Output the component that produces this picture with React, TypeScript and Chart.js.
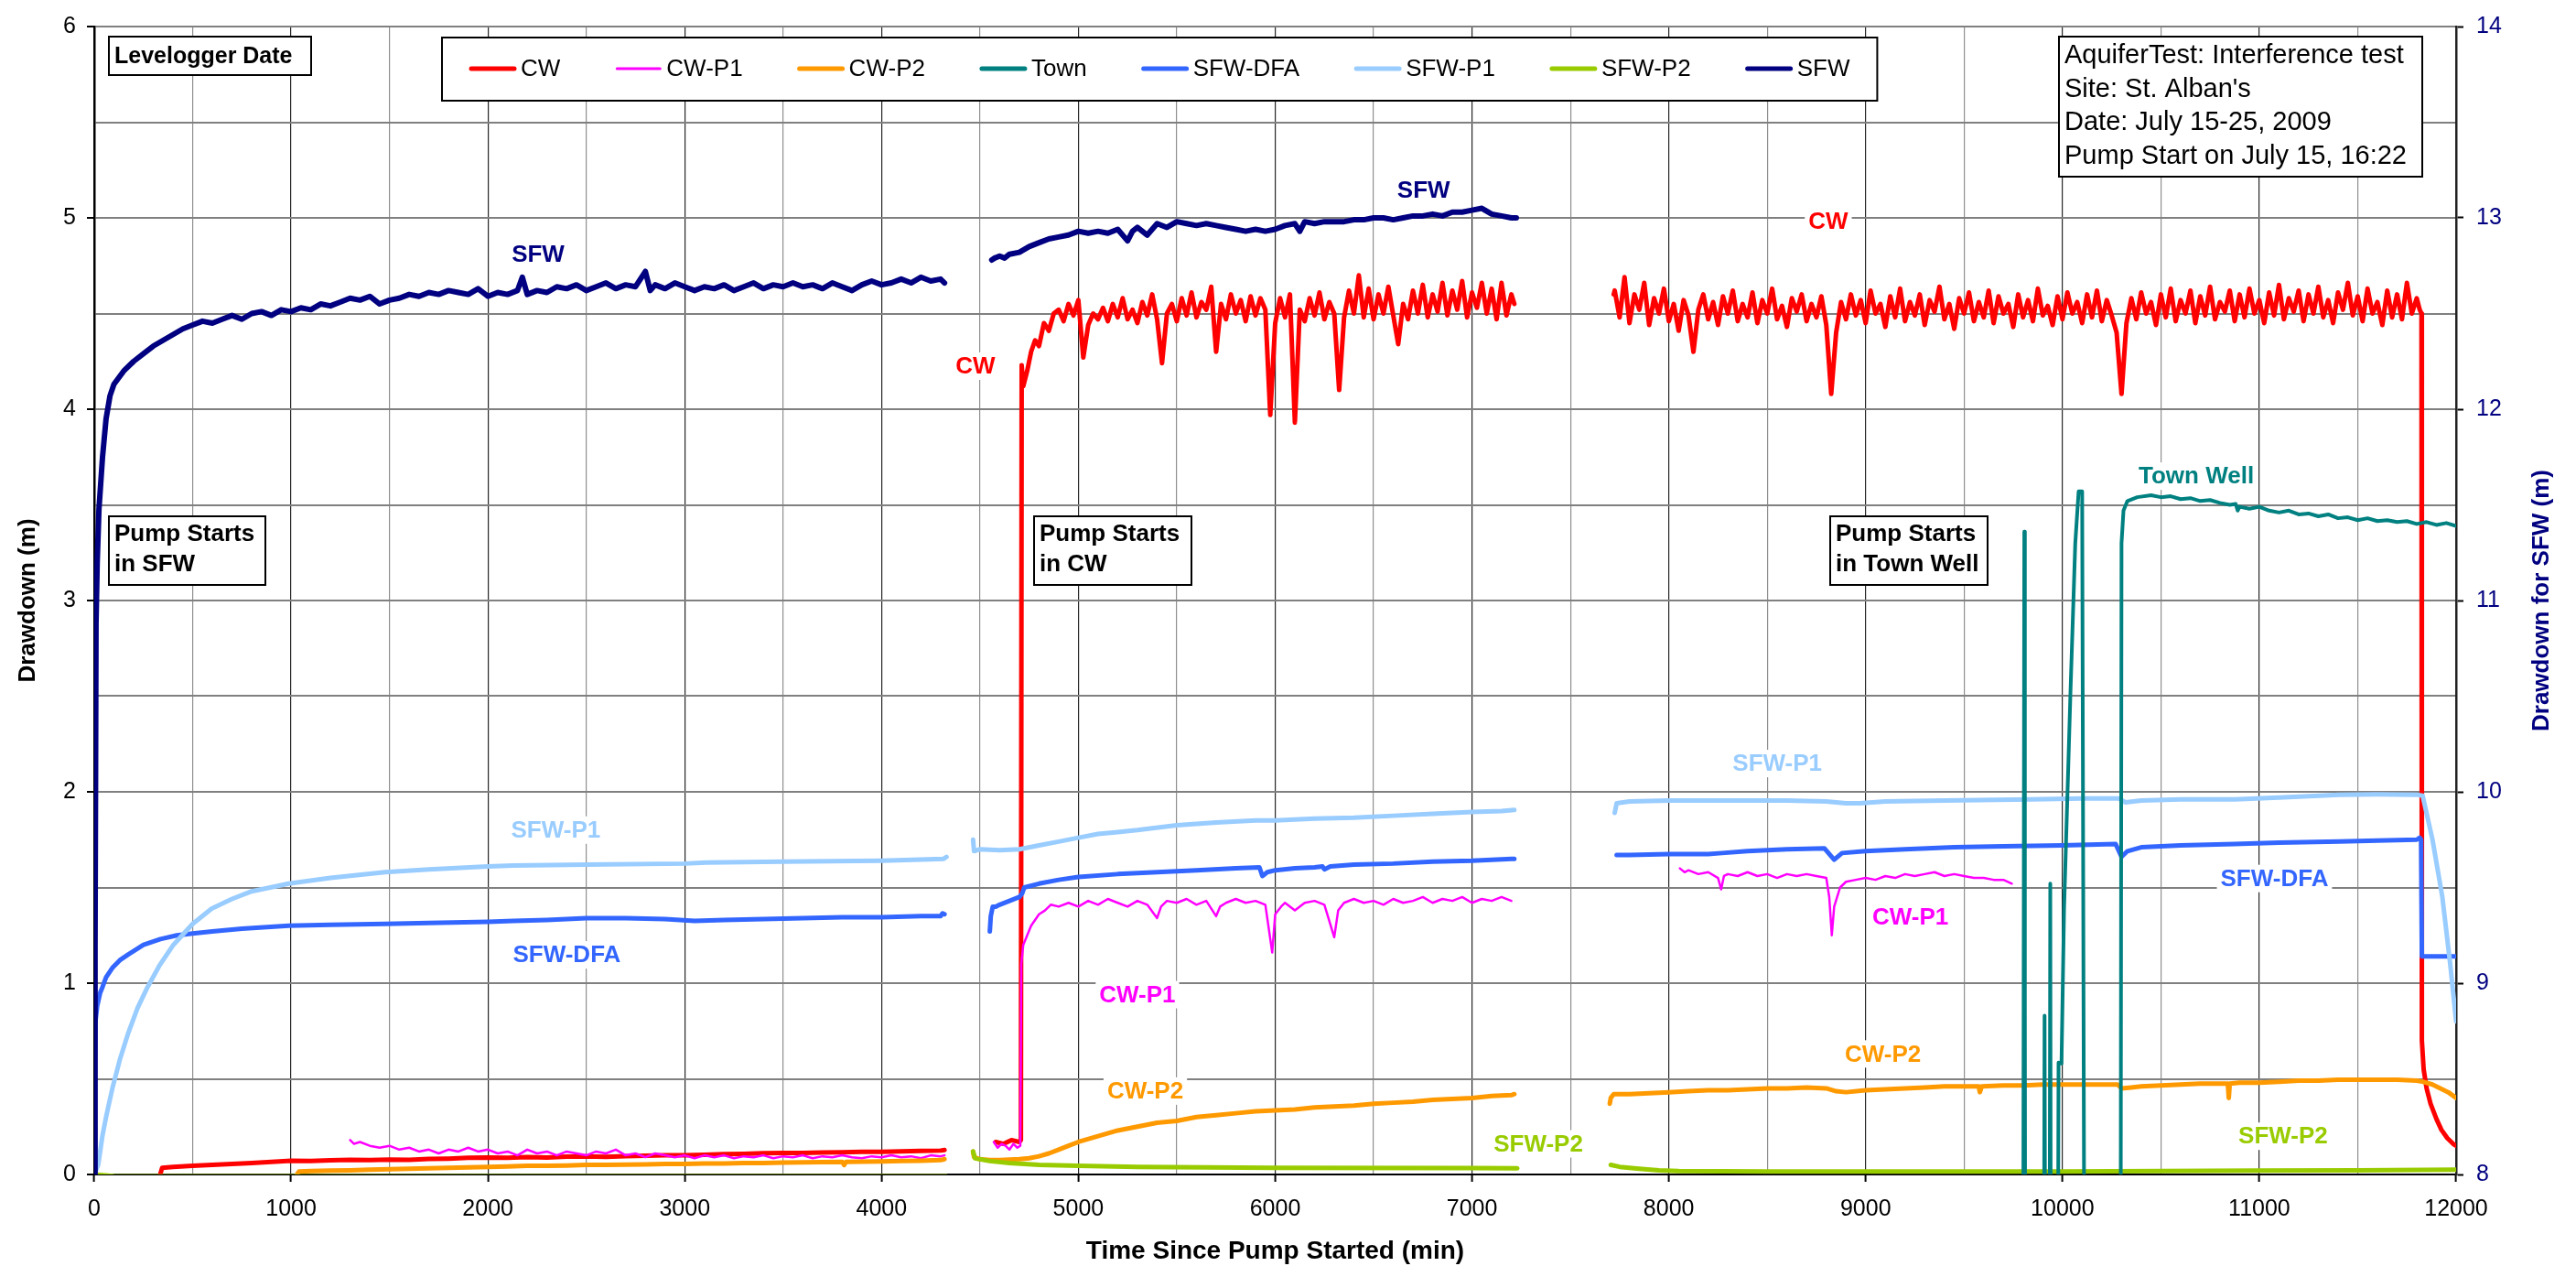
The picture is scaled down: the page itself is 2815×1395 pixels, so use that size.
import React, { useEffect, useRef } from 'react';
import { Chart, registerables } from 'chart.js';

Chart.register(...registerables);

const W = 2815;
const H = 1395;
const FONT = '"Liberation Sans", Arial, Helvetica, sans-serif';

type P = [number, number];

// ---------- axes ----------
const X_MIN = 0;
const X_MAX = 12000;
const X_STEP = 500;
const Y_MIN = 0;
const Y_MAX = 6;
const Y2_MIN = 8;
const Y2_MAX = 14;

// ---------- series names / colours ----------
const SERIES_NAMES = ['CW', 'CW-P1', 'CW-P2', 'Town', 'SFW-DFA', 'SFW-P1', 'SFW-P2', 'SFW'];
const SERIES_COLORS = ['#FF0000', '#FF00FF', '#FF9900', '#008080', '#3366FF', '#99CCFF', '#99CC00', '#000080'];

// ---------- CW ----------
const CW_SEG1: P[] = [[335, 0.0], [345, 0.035], [400, 0.04], [500, 0.045], [600, 0.05], [700, 0.055], [800, 0.06], [900, 0.066], [1000, 0.072], [1100, 0.07], [1200, 0.074], [1300, 0.076], [1400, 0.075], [1500, 0.078], [1600, 0.077], [1700, 0.081], [1800, 0.083], [1900, 0.087], [2000, 0.089], [2100, 0.087], [2200, 0.091], [2300, 0.089], [2400, 0.093], [2500, 0.095], [2600, 0.092], [2700, 0.096], [2800, 0.098], [2900, 0.1], [3000, 0.101], [3100, 0.103], [3200, 0.106], [3300, 0.108], [3400, 0.111], [3500, 0.113], [3600, 0.112], [3700, 0.115], [3800, 0.116], [3900, 0.118], [4000, 0.119], [4100, 0.121], [4200, 0.123], [4300, 0.125], [4320, 0.128]];
const CW_SEG2_HEAD: P[] = [[4580, 0.17], [4620, 0.16], [4660, 0.18], [4700, 0.17], [4708, 0.18], [4712, 4.23], [4720, 4.12], [4740, 4.2], [4760, 4.3], [4780, 4.36], [4800, 4.33], [4825, 4.45], [4850, 4.41], [4875, 4.5]];
const CW_SEG2_START = 4900;
const CW_SEG2_STEP = 25;
const CW_SEG2_VALUES = [
  4.52, 4.46, 4.55, 4.49, 4.57, 4.27, 4.44, 4.50, 4.47, 4.53,
  4.46, 4.55, 4.48, 4.58, 4.47, 4.52, 4.45, 4.56, 4.49, 4.60,
  4.47, 4.24, 4.50, 4.55, 4.46, 4.58, 4.49, 4.61, 4.48, 4.56,
  4.52, 4.64, 4.30, 4.55, 4.47, 4.60, 4.50, 4.57, 4.46, 4.59,
  4.49, 4.58, 4.52, 3.97, 4.45, 4.58, 4.48, 4.60, 3.93, 4.52,
  4.46, 4.58, 4.49, 4.61, 4.47, 4.56, 4.50, 4.10, 4.48, 4.62,
  4.50, 4.70, 4.48, 4.63, 4.47, 4.60, 4.50, 4.64, 4.49, 4.34,
  4.55, 4.47, 4.62, 4.50, 4.65, 4.48, 4.60, 4.51, 4.66, 4.49,
  4.62, 4.52, 4.67, 4.48, 4.61, 4.53, 4.66, 4.50, 4.63, 4.47,
  4.66, 4.49, 4.60,
];
const CW_SEG2_TAIL: P[] = [[7215, 4.55]];
const CW_SEG3_HEAD: P[] = [[7720, 4.6]];
const CW_SEG3_START = 7725;
const CW_SEG3_STEP = 25;
const CW_SEG3_VALUES = [
  4.62, 4.48, 4.69, 4.45, 4.60, 4.52, 4.66, 4.44, 4.58, 4.50,
  4.63, 4.46, 4.55, 4.41, 4.57, 4.49, 4.30, 4.52, 4.60, 4.47,
  4.56, 4.44, 4.59, 4.50, 4.62, 4.46, 4.55, 4.48, 4.61, 4.45,
  4.57, 4.50, 4.63, 4.47, 4.54, 4.43, 4.58, 4.51, 4.60, 4.46,
  4.55, 4.48, 4.59, 4.44, 4.08, 4.40, 4.56, 4.47, 4.60, 4.49,
  4.57, 4.45, 4.62, 4.50, 4.55, 4.43, 4.59, 4.48, 4.63, 4.46,
  4.56, 4.49, 4.60, 4.44, 4.57, 4.51, 4.64, 4.47, 4.55, 4.42,
  4.58, 4.50, 4.61, 4.46, 4.56, 4.48, 4.62, 4.45, 4.59, 4.50,
  4.55, 4.43, 4.60, 4.48, 4.57, 4.46, 4.63, 4.49, 4.54, 4.44,
  4.59, 4.47, 4.61, 4.50, 4.56, 4.45, 4.60, 4.48, 4.62, 4.46,
  4.57, 4.49, 4.40, 4.08, 4.45, 4.58, 4.47, 4.61, 4.50, 4.56,
  4.44, 4.60, 4.48, 4.63, 4.46, 4.57, 4.50, 4.62, 4.45, 4.59,
  4.49, 4.64, 4.47, 4.56, 4.51, 4.62, 4.46, 4.60, 4.48, 4.63,
  4.50, 4.57, 4.45, 4.61, 4.49, 4.65, 4.47, 4.58, 4.51, 4.62,
  4.46, 4.60, 4.50, 4.64, 4.48, 4.57, 4.45, 4.61, 4.52, 4.66,
  4.49, 4.59, 4.46, 4.63, 4.50, 4.56, 4.44, 4.62, 4.48, 4.60,
  4.47, 4.66, 4.50, 4.58,
];
const CW_SEG3_TAIL: P[] = [[11815, 4.52], [11824, 4.5], [11826, 0.7], [11835, 0.55], [11850, 0.45], [11870, 0.37], [11900, 0.29], [11925, 0.234], [11955, 0.19], [11985, 0.16], [12000, 0.15]];

// ---------- CW-P1 ----------
const CWP1_SEG1: P[] = [[1300, 0.18], [1320, 0.16], [1350, 0.17], [1400, 0.15], [1450, 0.14], [1500, 0.15], [1550, 0.13], [1600, 0.14], [1650, 0.12], [1700, 0.13], [1750, 0.11], [1800, 0.13], [1850, 0.12], [1900, 0.14], [1950, 0.12], [2000, 0.13], [2050, 0.11], [2100, 0.12], [2150, 0.10], [2200, 0.13], [2250, 0.11], [2300, 0.12], [2350, 0.10], [2400, 0.12], [2450, 0.11], [2500, 0.10], [2550, 0.12], [2600, 0.11], [2650, 0.13], [2700, 0.10], [2750, 0.11], [2800, 0.09], [2850, 0.11], [2900, 0.10], [2950, 0.09], [3000, 0.10], [3050, 0.085], [3100, 0.10], [3150, 0.09], [3200, 0.10], [3250, 0.085], [3300, 0.095], [3350, 0.09], [3400, 0.10], [3450, 0.085], [3500, 0.095], [3550, 0.09], [3600, 0.10], [3650, 0.085], [3700, 0.095], [3750, 0.09], [3800, 0.10], [3850, 0.09], [3900, 0.085], [3950, 0.095], [4000, 0.09], [4050, 0.10], [4100, 0.09], [4150, 0.095], [4200, 0.085], [4250, 0.10], [4300, 0.095], [4320, 0.10]];
const CWP1_SEG2: P[] = [[4570, 0.17], [4590, 0.14], [4610, 0.16], [4630, 0.15], [4650, 0.13], [4670, 0.16], [4690, 0.14], [4705, 0.15], [4710, 1.1], [4720, 1.2], [4740, 1.25], [4760, 1.3], [4780, 1.33], [4800, 1.36], [4830, 1.38], [4860, 1.41], [4900, 1.40], [4950, 1.42], [5000, 1.40], [5050, 1.43], [5100, 1.41], [5150, 1.44], [5200, 1.42], [5250, 1.40], [5300, 1.43], [5350, 1.41], [5400, 1.34], [5420, 1.40], [5450, 1.43], [5500, 1.42], [5550, 1.44], [5600, 1.41], [5650, 1.43], [5700, 1.35], [5720, 1.40], [5750, 1.42], [5800, 1.44], [5850, 1.42], [5900, 1.43], [5950, 1.41], [5985, 1.16], [6000, 1.36], [6030, 1.40], [6050, 1.42], [6100, 1.38], [6150, 1.42], [6200, 1.43], [6250, 1.41], [6300, 1.24], [6320, 1.38], [6350, 1.42], [6400, 1.44], [6450, 1.42], [6500, 1.43], [6550, 1.41], [6600, 1.44], [6650, 1.42], [6700, 1.43], [6750, 1.45], [6800, 1.42], [6850, 1.44], [6900, 1.43], [6950, 1.45], [7000, 1.42], [7050, 1.44], [7100, 1.43], [7150, 1.45], [7200, 1.43]];
const CWP1_SEG3: P[] = [[8056, 1.60], [8080, 1.58], [8100, 1.59], [8150, 1.57], [8200, 1.58], [8250, 1.55], [8266, 1.49], [8280, 1.56], [8300, 1.57], [8350, 1.56], [8400, 1.58], [8450, 1.56], [8500, 1.57], [8550, 1.55], [8600, 1.57], [8650, 1.56], [8700, 1.57], [8750, 1.56], [8800, 1.55], [8815, 1.45], [8828, 1.25], [8840, 1.40], [8870, 1.50], [8900, 1.53], [8950, 1.54], [9000, 1.55], [9050, 1.54], [9100, 1.56], [9150, 1.55], [9200, 1.57], [9250, 1.56], [9300, 1.57], [9350, 1.58], [9400, 1.56], [9450, 1.57], [9500, 1.56], [9550, 1.55], [9600, 1.55], [9650, 1.54], [9700, 1.54], [9743, 1.52]];

// ---------- CW-P2 ----------
const CWP2_SEG1: P[] = [[1030, 0.0], [1040, 0.015], [1100, 0.018], [1200, 0.02], [1300, 0.022], [1400, 0.025], [1500, 0.027], [1600, 0.03], [1700, 0.032], [1800, 0.035], [1900, 0.037], [2000, 0.04], [2100, 0.042], [2200, 0.045], [2300, 0.045], [2400, 0.047], [2500, 0.05], [2600, 0.05], [2700, 0.052], [2800, 0.053], [2900, 0.055], [3000, 0.055], [3100, 0.057], [3200, 0.058], [3300, 0.06], [3400, 0.06], [3500, 0.062], [3600, 0.063], [3700, 0.065], [3800, 0.066], [3810, 0.05], [3820, 0.066], [3900, 0.067], [4000, 0.068], [4100, 0.07], [4200, 0.072], [4300, 0.075], [4320, 0.08]];
const CWP2_SEG2: P[] = [[4465, 0.12], [4470, 0.09], [4500, 0.08], [4550, 0.075], [4600, 0.075], [4650, 0.078], [4700, 0.08], [4750, 0.085], [4800, 0.095], [4850, 0.11], [4900, 0.13], [4950, 0.15], [5000, 0.17], [5100, 0.2], [5200, 0.23], [5300, 0.25], [5400, 0.27], [5500, 0.28], [5600, 0.3], [5700, 0.31], [5800, 0.32], [5900, 0.33], [6000, 0.335], [6100, 0.34], [6200, 0.35], [6300, 0.355], [6400, 0.36], [6500, 0.37], [6600, 0.375], [6700, 0.38], [6800, 0.39], [6900, 0.395], [7000, 0.40], [7100, 0.41], [7200, 0.415], [7215, 0.42]];
const CWP2_SEG3: P[] = [[7700, 0.37], [7705, 0.40], [7720, 0.42], [7800, 0.42], [7900, 0.425], [8000, 0.43], [8100, 0.435], [8200, 0.44], [8300, 0.44], [8400, 0.445], [8500, 0.45], [8600, 0.45], [8700, 0.455], [8800, 0.45], [8850, 0.435], [8900, 0.43], [9000, 0.44], [9100, 0.445], [9200, 0.45], [9300, 0.455], [9400, 0.46], [9500, 0.46], [9575, 0.46], [9580, 0.43], [9590, 0.46], [9700, 0.465], [9800, 0.465], [9900, 0.47], [10000, 0.47], [10100, 0.47], [10200, 0.47], [10280, 0.47], [10300, 0.45], [10350, 0.455], [10400, 0.46], [10500, 0.465], [10600, 0.47], [10700, 0.475], [10800, 0.475], [10840, 0.475], [10845, 0.40], [10850, 0.475], [10900, 0.48], [11000, 0.48], [11100, 0.485], [11200, 0.49], [11300, 0.49], [11400, 0.495], [11500, 0.495], [11600, 0.495], [11700, 0.495], [11800, 0.49], [11830, 0.485], [11880, 0.47], [11920, 0.45], [11960, 0.43], [12000, 0.40]];

// ---------- Town ----------
const TOWN_SEG: P[] = [[9800, -1], [9806, 3.36], [9809, 0.87], [9811, -1], [9905, -1], [9909, 0.83], [9913, -1], [9934, -1], [9938, 1.52], [9941, -1], [9976, -1], [9980, 0.585], [9995, 0.58], [10008, 1.385], [10040, 2.5], [10065, 3.3], [10082, 3.57], [10100, 3.57], [10112, -1], [10295, -1], [10300, 3.3], [10310, 3.47], [10330, 3.52], [10380, 3.54], [10450, 3.55], [10500, 3.54], [10550, 3.545], [10600, 3.53], [10650, 3.535], [10700, 3.52], [10750, 3.525], [10800, 3.51], [10850, 3.5], [10880, 3.505], [10890, 3.47], [10900, 3.49], [10950, 3.48], [11000, 3.49], [11050, 3.47], [11100, 3.46], [11150, 3.47], [11200, 3.45], [11250, 3.455], [11300, 3.44], [11350, 3.45], [11400, 3.43], [11450, 3.435], [11500, 3.42], [11550, 3.43], [11600, 3.415], [11650, 3.42], [11700, 3.41], [11750, 3.415], [11800, 3.40], [11850, 3.41], [11900, 3.395], [11950, 3.405], [12000, 3.39]];

// ---------- SFW-DFA ----------
const DFA_SEG1: P[] = [[0, 0.0], [3, 0.6], [6, 0.8], [15, 0.88], [30, 0.95], [42, 0.98], [60, 1.03], [92, 1.08], [130, 1.12], [173, 1.15], [250, 1.2], [336, 1.23], [420, 1.25], [500, 1.26], [600, 1.27], [750, 1.285], [988, 1.30], [1200, 1.305], [1478, 1.31], [1700, 1.315], [2000, 1.32], [2130, 1.325], [2300, 1.33], [2500, 1.34], [2700, 1.34], [2900, 1.335], [3050, 1.325], [3200, 1.33], [3400, 1.335], [3600, 1.34], [3800, 1.345], [4000, 1.345], [4200, 1.35], [4300, 1.35], [4310, 1.365], [4320, 1.36]];
const DFA_SEG2: P[] = [[4550, 1.27], [4555, 1.35], [4565, 1.40], [4580, 1.40], [4600, 1.41], [4650, 1.43], [4700, 1.45], [4715, 1.47], [4725, 1.5], [4800, 1.52], [4900, 1.54], [5000, 1.555], [5200, 1.57], [5400, 1.58], [5600, 1.59], [5800, 1.6], [5920, 1.605], [5935, 1.56], [5960, 1.58], [6000, 1.59], [6100, 1.6], [6200, 1.605], [6240, 1.61], [6250, 1.595], [6280, 1.61], [6400, 1.62], [6600, 1.625], [6800, 1.635], [7000, 1.64], [7200, 1.65], [7215, 1.65]];
const DFA_SEG3: P[] = [[7735, 1.67], [7800, 1.67], [8000, 1.675], [8200, 1.675], [8270, 1.68], [8400, 1.69], [8600, 1.70], [8790, 1.705], [8840, 1.645], [8880, 1.68], [9000, 1.69], [9200, 1.70], [9450, 1.71], [9700, 1.715], [10000, 1.72], [10270, 1.727], [10300, 1.66], [10330, 1.69], [10400, 1.71], [10600, 1.72], [10874, 1.727], [11100, 1.735], [11408, 1.74], [11600, 1.745], [11800, 1.75], [11815, 1.76], [11822, 1.75], [11826, 1.14], [11900, 1.14], [12000, 1.14]];

// ---------- SFW-P1 ----------
const P1_SEG1: P[] = [[0, 0.0], [20, 0.05], [42, 0.205], [60, 0.3], [92, 0.45], [130, 0.6], [173, 0.74], [220, 0.87], [271, 0.98], [330, 1.09], [402, 1.2], [500, 1.31], [597, 1.39], [700, 1.44], [800, 1.48], [988, 1.52], [1200, 1.55], [1478, 1.58], [1700, 1.595], [2000, 1.61], [2130, 1.615], [2500, 1.62], [3000, 1.625], [3109, 1.63], [3500, 1.635], [4000, 1.64], [4316, 1.65], [4330, 1.66]];
const P1_SEG2: P[] = [[4465, 1.75], [4470, 1.69], [4500, 1.70], [4600, 1.695], [4700, 1.70], [4800, 1.72], [4900, 1.74], [5000, 1.76], [5100, 1.78], [5200, 1.79], [5300, 1.80], [5500, 1.825], [5700, 1.84], [5900, 1.85], [6000, 1.85], [6200, 1.86], [6400, 1.865], [6600, 1.875], [6800, 1.885], [7000, 1.895], [7150, 1.90], [7215, 1.905]];
const P1_SEG3: P[] = [[7725, 1.89], [7735, 1.94], [7800, 1.95], [8000, 1.955], [8300, 1.955], [8600, 1.955], [8800, 1.95], [8900, 1.94], [8970, 1.94], [9100, 1.95], [9400, 1.955], [9840, 1.96], [10100, 1.965], [10287, 1.965], [10320, 1.945], [10400, 1.955], [10600, 1.96], [10874, 1.96], [11100, 1.97], [11408, 1.985], [11600, 1.987], [11800, 1.985], [11830, 1.98], [11880, 1.75], [11930, 1.45], [11970, 1.1], [12000, 0.8]];

// ---------- SFW-P2 ----------
const P2_SEG1: P[] = [[0, 0.0], [100, -0.008], [1000, -0.01], [2000, -0.01], [3000, -0.01], [4330, -0.01]];
const P2_SEG2: P[] = [[4465, 0.12], [4475, 0.085], [4550, 0.07], [4650, 0.06], [4800, 0.05], [5000, 0.045], [5300, 0.04], [6000, 0.035], [7000, 0.033], [7230, 0.032]];
const P2_SEG3: P[] = [[7705, 0.05], [7750, 0.04], [7850, 0.03], [7950, 0.022], [8050, 0.018], [8500, 0.016], [9000, 0.015], [9500, 0.015], [10000, 0.016], [10500, 0.018], [11000, 0.02], [11500, 0.022], [12000, 0.025]];

// ---------- SFW (right axis, m) ----------
const SFW_SEG1: P[] = [[0, 8.0], [4, 9.2], [9, 10.88], [15, 11.2], [24, 11.48], [42, 11.75], [60, 11.95], [80, 12.07], [100, 12.13], [150, 12.2], [200, 12.25], [250, 12.29], [300, 12.33], [350, 12.36], [400, 12.39], [450, 12.42], [500, 12.44], [550, 12.46], [600, 12.45], [650, 12.47], [700, 12.49], [750, 12.47], [800, 12.50], [850, 12.51], [900, 12.49], [950, 12.52], [1000, 12.51], [1050, 12.53], [1100, 12.52], [1150, 12.55], [1200, 12.54], [1250, 12.56], [1300, 12.58], [1350, 12.57], [1400, 12.59], [1450, 12.55], [1500, 12.57], [1550, 12.58], [1600, 12.60], [1650, 12.59], [1700, 12.61], [1750, 12.60], [1800, 12.62], [1850, 12.61], [1900, 12.60], [1950, 12.63], [2000, 12.59], [2050, 12.61], [2100, 12.60], [2150, 12.62], [2175, 12.69], [2200, 12.60], [2250, 12.62], [2300, 12.61], [2350, 12.64], [2400, 12.63], [2450, 12.65], [2500, 12.62], [2550, 12.64], [2600, 12.66], [2650, 12.63], [2700, 12.65], [2750, 12.64], [2800, 12.72], [2825, 12.62], [2850, 12.65], [2900, 12.63], [2950, 12.66], [3000, 12.64], [3050, 12.62], [3100, 12.64], [3150, 12.63], [3200, 12.65], [3250, 12.62], [3300, 12.64], [3350, 12.66], [3400, 12.63], [3450, 12.65], [3500, 12.64], [3550, 12.66], [3600, 12.64], [3650, 12.65], [3700, 12.63], [3750, 12.66], [3800, 12.64], [3850, 12.62], [3900, 12.65], [3950, 12.67], [4000, 12.65], [4050, 12.66], [4100, 12.68], [4150, 12.66], [4200, 12.69], [4250, 12.67], [4300, 12.68], [4320, 12.66]];
const SFW_SEG2: P[] = [[4560, 12.78], [4575, 12.79], [4600, 12.80], [4625, 12.79], [4650, 12.81], [4700, 12.82], [4750, 12.85], [4800, 12.87], [4850, 12.89], [4900, 12.90], [4950, 12.91], [5000, 12.93], [5050, 12.92], [5100, 12.93], [5150, 12.92], [5200, 12.94], [5250, 12.88], [5275, 12.93], [5300, 12.95], [5350, 12.91], [5400, 12.97], [5450, 12.95], [5500, 12.98], [5550, 12.97], [5600, 12.96], [5650, 12.97], [5700, 12.96], [5750, 12.95], [5800, 12.94], [5850, 12.93], [5900, 12.94], [5950, 12.93], [6000, 12.94], [6050, 12.96], [6100, 12.97], [6125, 12.93], [6150, 12.98], [6200, 12.97], [6250, 12.98], [6300, 12.98], [6350, 12.98], [6400, 12.99], [6450, 12.99], [6500, 13.0], [6550, 13.0], [6600, 12.99], [6650, 13.0], [6700, 13.01], [6750, 13.01], [6800, 13.02], [6850, 13.01], [6900, 13.03], [6950, 13.03], [7000, 13.04], [7050, 13.05], [7100, 13.02], [7150, 13.01], [7200, 13.0], [7225, 13.0]];

// ---------- text ----------
const INFO_LINES = ['AquiferTest: Interference test', "Site: St. Alban's", 'Date: July 15-25, 2009', 'Pump Start on July 15, 16:22'];
const X_TITLE = 'Time Since Pump Started (min)';
const Y_TITLE = 'Drawdown (m)';
const Y2_TITLE = 'Drawdown for SFW (m)';
const SERIES_LABELS: { text: string; color: string; t: number; v: number }[] = [
  { text: 'SFW', color: '#000080', t: 2255, v: 4.81 },
  { text: 'SFW', color: '#000080', t: 6754, v: 5.145 },
  { text: 'CW', color: '#FF0000', t: 4477, v: 4.225 },
  { text: 'CW', color: '#FF0000', t: 8810, v: 4.98 },
  { text: 'Town Well', color: '#008080', t: 10680, v: 3.65 },
  { text: 'SFW-P1', color: '#99CCFF', t: 2345, v: 1.8 },
  { text: 'SFW-DFA', color: '#3366FF', t: 2401, v: 1.148 },
  { text: 'CW-P1', color: '#FF00FF', t: 5300, v: 0.94 },
  { text: 'CW-P2', color: '#FF9900', t: 5340, v: 0.436 },
  { text: 'SFW-P2', color: '#99CC00', t: 7337, v: 0.16 },
  { text: 'SFW-P1', color: '#99CCFF', t: 8551, v: 2.148 },
  { text: 'CW-P1', color: '#FF00FF', t: 9227, v: 1.343 },
  { text: 'CW-P2', color: '#FF9900', t: 9088, v: 0.63 },
  { text: 'SFW-DFA', color: '#3366FF', t: 11077, v: 1.547 },
  { text: 'SFW-P2', color: '#99CC00', t: 11121, v: 0.2 },
];

type Box = { lines: string[]; x: number; y: number; w: number; h: number; bold: boolean; size: number; first: number; lineH: number };
const NOTE_BOXES: Box[] = [
  { lines: ['Levelogger Date'], x: 119, y: 40, w: 221, h: 42, bold: true, size: 25, first: 21, lineH: 0 },
  { lines: ['Pump Starts', 'in SFW'], x: 119, y: 564, w: 171, h: 75, bold: true, size: 26, first: 19, lineH: 33 },
  { lines: ['Pump Starts', 'in CW'], x: 1130, y: 564, w: 172, h: 75, bold: true, size: 26, first: 19, lineH: 33 },
  { lines: ['Pump Starts', 'in Town Well'], x: 2000, y: 564, w: 172, h: 75, bold: true, size: 26, first: 19, lineH: 33 },
  { lines: INFO_LINES, x: 2250, y: 40, w: 397, h: 153, bold: false, size: 29, first: 20, lineH: 36.7 },
];

const toXY = (pts: P[]) => pts.map(([x, y]) => ({ x, y }));
const stepped = (start: number, step: number, vals: number[]) => vals.map((y, i) => ({ x: start + i * step, y }));
const joinSegs = (...segs: { x: number; y: number | null }[][]) => {
  const out: { x: number; y: number | null }[] = [];
  segs.forEach((s, i) => {
    if (i > 0 && out.length && s.length) {
      const prev = out[out.length - 1].x;
      out.push({ x: (prev + s[0].x) / 2, y: null });
    }
    out.push(...s);
  });
  return out;
};

const SERIES_DATA = [
  joinSegs(toXY(CW_SEG1), [...toXY(CW_SEG2_HEAD), ...stepped(CW_SEG2_START, CW_SEG2_STEP, CW_SEG2_VALUES), ...toXY(CW_SEG2_TAIL)], [...toXY(CW_SEG3_HEAD), ...stepped(CW_SEG3_START, CW_SEG3_STEP, CW_SEG3_VALUES), ...toXY(CW_SEG3_TAIL)]),
  joinSegs(toXY(CWP1_SEG1), toXY(CWP1_SEG2), toXY(CWP1_SEG3)),
  joinSegs(toXY(CWP2_SEG1), toXY(CWP2_SEG2), toXY(CWP2_SEG3)),
  joinSegs(toXY(TOWN_SEG)),
  joinSegs(toXY(DFA_SEG1), toXY(DFA_SEG2), toXY(DFA_SEG3)),
  joinSegs(toXY(P1_SEG1), toXY(P1_SEG2), toXY(P1_SEG3)),
  joinSegs(toXY(P2_SEG1), toXY(P2_SEG2), toXY(P2_SEG3)),
  joinSegs(toXY(SFW_SEG1), toXY(SFW_SEG2)),
];
const SERIES_WIDTHS = [5, 2.5, 5, 4, 5, 5, 5, 6];
const SERIES_AXES = ['y', 'y', 'y', 'y', 'y', 'y', 'y', 'y2'];
const SERIES_ORDER = [7, 6, 5, 0, 4, 3, 2, 1];
const LEGEND_WIDTHS = [5, 3, 5, 5, 5, 5, 5, 5];

const overlay = {
  id: 'overlay',
  afterDatasetsDraw(chart: any) {
    const ctx = chart.ctx as CanvasRenderingContext2D;
    const xs = chart.scales.x;
    const ys = chart.scales.y;
    ctx.save();
    ctx.font = `bold 26px ${FONT}`;
    ctx.textAlign = 'center';
    ctx.textBaseline = 'middle';
    SERIES_LABELS.forEach((l) => {
      const cx = xs.getPixelForValue(l.t);
      const cy = ys.getPixelForValue(l.v);
      const w = ctx.measureText(l.text).width;
      ctx.fillStyle = '#ffffff';
      ctx.fillRect(cx - w / 2 - 4, cy - 15, w + 8, 30);
      ctx.fillStyle = l.color;
      ctx.fillText(l.text, cx, cy + 1);
    });
    ctx.restore();
  },
  afterDraw(chart: any) {
    const ctx = chart.ctx as CanvasRenderingContext2D;
    const area = chart.chartArea;
    ctx.save();
    // text boxes
    NOTE_BOXES.forEach((b) => {
      ctx.fillStyle = '#ffffff';
      ctx.fillRect(b.x, b.y, b.w, b.h);
      ctx.strokeStyle = '#000000';
      ctx.lineWidth = 2;
      ctx.strokeRect(b.x, b.y, b.w, b.h);
      ctx.fillStyle = '#000000';
      ctx.font = `${b.bold ? 'bold ' : ''}${b.size}px ${FONT}`;
      ctx.textAlign = 'left';
      ctx.textBaseline = 'middle';
      b.lines.forEach((ln, i) => ctx.fillText(ln, b.x + 6, b.y + b.first + i * b.lineH + 1));
    });
    // legend
    ctx.font = `26px ${FONT}`;
    const legLeft = 483;
    const legTop = 41;
    const legBottom = 110;
    const legY = 75;
    let x = 513;
    const items: { x: number; w: number }[] = [];
    SERIES_NAMES.forEach((n) => {
      const tw = ctx.measureText(n).width;
      items.push({ x, w: tw });
      x += 51 + 5 + tw + 60;
    });
    const last = items[items.length - 1];
    const legRight = last.x + 56 + last.w + 30;
    ctx.fillStyle = '#ffffff';
    ctx.fillRect(legLeft, legTop, legRight - legLeft, legBottom - legTop);
    ctx.strokeStyle = '#000000';
    ctx.lineWidth = 2;
    ctx.strokeRect(legLeft, legTop, legRight - legLeft, legBottom - legTop);
    SERIES_NAMES.forEach((n, i) => {
      const it = items[i];
      ctx.strokeStyle = SERIES_COLORS[i];
      ctx.lineWidth = LEGEND_WIDTHS[i];
      ctx.lineCap = 'round';
      ctx.beginPath();
      ctx.moveTo(it.x + 2, legY);
      ctx.lineTo(it.x + 49, legY);
      ctx.stroke();
      ctx.fillStyle = '#000000';
      ctx.textAlign = 'left';
      ctx.textBaseline = 'middle';
      ctx.fillText(n, it.x + 56, legY + 1);
    });
    // axis titles
    ctx.textAlign = 'center';
    ctx.textBaseline = 'middle';
    ctx.fillStyle = '#000000';
    ctx.font = `bold 28px ${FONT}`;
    ctx.fillText(X_TITLE, (area.left + area.right) / 2, 1367);
    ctx.font = `bold 26px ${FONT}`;
    const midY = (area.top + area.bottom) / 2;
    ctx.save();
    ctx.translate(31, midY);
    ctx.rotate(-Math.PI / 2);
    ctx.fillText(Y_TITLE, 0, 0);
    ctx.restore();
    ctx.save();
    ctx.translate(2778, midY);
    ctx.rotate(-Math.PI / 2);
    ctx.fillStyle = '#000080';
    ctx.fillText(Y2_TITLE, 0, 0);
    ctx.restore();
    ctx.restore();
  },
};

export default function App() {
  const ref = useRef<HTMLCanvasElement | null>(null);
  useEffect(() => {
    if (!ref.current) return;
    const datasets = SERIES_NAMES.map((name, i) => ({
      label: name,
      data: SERIES_DATA[i],
      borderColor: SERIES_COLORS[i],
      backgroundColor: SERIES_COLORS[i],
      borderWidth: SERIES_WIDTHS[i],
      pointRadius: 0,
      pointHoverRadius: 0,
      tension: 0,
      spanGaps: false,
      fill: false,
      yAxisID: SERIES_AXES[i],
      order: SERIES_ORDER[i],
      borderJoinStyle: 'round' as const,
      borderCapStyle: 'round' as const,
    }));
    const chart = new Chart(ref.current, {
      type: 'line',
      data: { datasets },
      plugins: [overlay],
      options: {
        animation: false,
        responsive: false,
        maintainAspectRatio: false,
        devicePixelRatio: 1,
        events: [],
        layout: { padding: { top: 22, left: 0, right: 0, bottom: 0 }, autoPadding: false },
        plugins: { legend: { display: false }, tooltip: { enabled: false }, title: { display: false } },
        scales: {
          x: {
            type: 'linear',
            min: X_MIN,
            max: X_MAX,
            afterFit: (s: any) => { s.height = 112; },
            ticks: {
              stepSize: X_STEP,
              autoSkip: false,
              maxRotation: 0,
              padding: 15,
              color: '#000000',
              font: { family: FONT, size: 25 },
              callback: (v: any) => (Number(v) % 1000 === 0 ? String(v) : ''),
            },
            grid: {
              color: (c: any) => (c.tick && c.tick.value % 1000 === 0 ? '#262626' : '#8f8f8f'),
              lineWidth: 1.2,
              tickLength: 8,
              tickWidth: 2,
              tickColor: (c: any) => (c.tick && c.tick.value % 1000 === 0 ? '#000000' : 'rgba(0,0,0,0)'),
            },
            border: { display: true, color: '#000000', width: 2 },
          },
          y: {
            type: 'linear',
            position: 'left',
            min: Y_MIN,
            max: Y_MAX,
            afterFit: (s: any) => { s.width = 103; },
            ticks: {
              stepSize: 0.5,
              padding: 12,
              color: '#000000',
              font: { family: FONT, size: 25 },
              callback: (v: any) => (Number.isInteger(Number(v)) ? String(v) : ''),
            },
            grid: {
              color: '#808080',
              lineWidth: 2,
              tickLength: 8,
              tickWidth: 2,
              tickColor: (c: any) => (c.tick && Number.isInteger(c.tick.value) ? '#000000' : 'rgba(0,0,0,0)'),
            },
            border: { display: true, color: '#000000', width: 2.5 },
          },
          y2: {
            type: 'linear',
            position: 'right',
            min: Y2_MIN,
            max: Y2_MAX,
            afterFit: (s: any) => { s.width = 131; },
            ticks: {
              stepSize: 1,
              padding: 14,
              color: '#000080',
              font: { family: FONT, size: 25 },
            },
            grid: { drawOnChartArea: false, tickLength: 8, tickWidth: 2, tickColor: '#000000' },
            border: { display: true, color: '#222222', width: 2.5 },
          },
        },
      } as any,
    });
    return () => chart.destroy();
  }, []);
  return (
    <div style={{ position: 'fixed', left: 0, top: 0, width: W, height: H, background: '#ffffff' }}>
      <canvas ref={ref} width={W} height={H} style={{ display: 'block', width: W, height: H }} />
    </div>
  );
}
